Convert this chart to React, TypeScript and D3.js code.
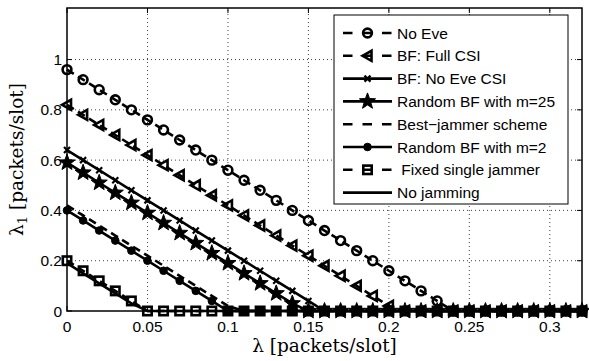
import React from 'react';
import * as d3 from 'd3';

const lambdaValues = [
  0, 0.01, 0.02, 0.03, 0.04, 0.05, 0.06, 0.07, 0.08, 0.09, 0.1, 0.11, 0.12, 0.13, 0.14, 0.15, 0.16,
  0.17, 0.18, 0.19, 0.2, 0.21, 0.22, 0.23, 0.24, 0.25, 0.26, 0.27, 0.28, 0.29, 0.3, 0.31, 0.32,
];

const noEve = [
  0.96, 0.92, 0.88, 0.84, 0.8, 0.76, 0.72, 0.68, 0.64, 0.6, 0.56, 0.52, 0.48, 0.44, 0.4, 0.36, 0.32,
  0.28, 0.24, 0.2, 0.16, 0.12, 0.08, 0.04, 0, 0, 0, 0, 0, 0, 0, 0, 0,
];
const bfFullCsi = [
  0.82, 0.78, 0.74, 0.7, 0.66, 0.62, 0.58, 0.54, 0.5, 0.46, 0.42, 0.38, 0.34, 0.3, 0.26, 0.22, 0.18,
  0.14, 0.1, 0.06, 0.02, 0, 0, 0, 0, 0, 0, 0, 0, 0, 0, 0, 0,
];
const bfNoEveCsi = [
  0.64, 0.6, 0.56, 0.52, 0.48, 0.44, 0.4, 0.36, 0.32, 0.28, 0.24, 0.2, 0.16, 0.12, 0.08, 0.04, 0,
  0, 0, 0, 0, 0, 0, 0, 0, 0, 0, 0, 0, 0, 0, 0, 0,
];
const randomBf25 = [
  0.59, 0.55, 0.51, 0.47, 0.43, 0.39, 0.35, 0.31, 0.27, 0.23, 0.19, 0.15, 0.11, 0.07, 0.03, 0, 0,
  0, 0, 0, 0, 0, 0, 0, 0, 0, 0, 0, 0, 0, 0, 0, 0,
];
const bestJammer = [
  0.42, 0.38, 0.34, 0.3, 0.26, 0.22, 0.18, 0.14, 0.1, 0.06, 0.02, 0, 0, 0, 0, 0, 0,
  0, 0, 0, 0, 0, 0, 0, 0, 0, 0, 0, 0, 0, 0, 0, 0,
];
const randomBf2 = [
  0.4, 0.36, 0.32, 0.28, 0.24, 0.2, 0.16, 0.12, 0.08, 0.04, 0, 0, 0, 0, 0, 0, 0,
  0, 0, 0, 0, 0, 0, 0, 0, 0, 0, 0, 0, 0, 0, 0, 0,
];
const fixedJammer = [
  0.2, 0.16, 0.12, 0.08, 0.04, 0, 0, 0, 0, 0, 0, 0, 0, 0, 0, 0, 0,
  0, 0, 0, 0, 0, 0, 0, 0, 0, 0, 0, 0, 0, 0, 0, 0,
];
const noJamming = [
  0.19, 0.15, 0.11, 0.07, 0.03, 0, 0, 0, 0, 0, 0, 0, 0, 0, 0, 0, 0,
  0, 0, 0, 0, 0, 0, 0, 0, 0, 0, 0, 0, 0, 0, 0, 0,
];

const xTicks = [0, 0.05, 0.1, 0.15, 0.2, 0.25, 0.3];
const yTicks = [0, 0.2, 0.4, 0.6, 0.8, 1];

type Marker = 'circle' | 'triangle' | 'x' | 'star' | 'dot' | 'square' | 'none';

const series: { label: string; values: number[]; dashed: boolean; marker: Marker }[] = [
  { label: 'No Eve', values: noEve, dashed: true, marker: 'circle' },
  { label: 'BF: Full CSI', values: bfFullCsi, dashed: true, marker: 'triangle' },
  { label: 'BF: No Eve CSI', values: bfNoEveCsi, dashed: false, marker: 'x' },
  { label: 'Random BF with m=25', values: randomBf25, dashed: false, marker: 'star' },
  { label: 'Best\u2212jammer scheme', values: bestJammer, dashed: true, marker: 'none' },
  { label: 'Random BF with m=2', values: randomBf2, dashed: false, marker: 'dot' },
  { label: ' Fixed single jammer', values: fixedJammer, dashed: true, marker: 'square' },
  { label: 'No jamming', values: noJamming, dashed: false, marker: 'none' },
];

const width = 589;
const height = 361;
const margin = { top: 8, right: 7, bottom: 50, left: 67 };
const sans = '"Liberation Sans", Arial, Helvetica, sans-serif';
const serif = '"DejaVu Serif", "Liberation Serif", serif';
const lw = 2.6;

function starPath(cx: number, cy: number, ro: number, ri: number) {
  const pts: string[] = [];
  for (let i = 0; i < 10; i++) {
    const r = i % 2 === 0 ? ro : ri;
    const a = -Math.PI / 2 + (i * Math.PI) / 5;
    pts.push(`${cx + r * Math.cos(a)},${cy + r * Math.sin(a)}`);
  }
  return `M${pts.join('L')}Z`;
}

function drawMarker(type: Marker, x: number, y: number, key: string | number) {
  switch (type) {
    case 'circle':
      return <circle key={key} cx={x} cy={y} r={4.4} fill="none" stroke="#000" strokeWidth={lw} />;
    case 'triangle':
      return (
        <polygon
          key={key}
          points={`${x - 5},${y} ${x + 4},${y - 5} ${x + 4},${y + 5}`}
          fill="none"
          stroke="#000"
          strokeWidth={lw}
          strokeLinejoin="miter"
        />
      );
    case 'x':
      return (
        <path
          key={key}
          d={`M${x - 3},${y - 3}L${x + 3},${y + 3}M${x - 3},${y + 3}L${x + 3},${y - 3}`}
          stroke="#000"
          strokeWidth={2.2}
        />
      );
    case 'star':
      return <path key={key} d={starPath(x, y, 8.5, 3.5)} fill="#000" stroke="#000" strokeWidth={1} />;
    case 'dot':
      return <circle key={key} cx={x} cy={y} r={3.8} fill="#000" stroke="#000" strokeWidth={1} />;
    case 'square':
      return (
        <rect key={key} x={x - 4.2} y={y - 4.2} width={8.4} height={8.4} fill="none" stroke="#000" strokeWidth={lw} />
      );
    default:
      return null;
  }
}

export default function App() {
  const x = d3.scaleLinear().domain([0, 0.32]).range([margin.left, width - margin.right]);
  const y = d3.scaleLinear().domain([0, 1.205]).range([height - margin.bottom, margin.top]);
  const [x0, x1] = x.range();
  const [y0, y1] = y.range();

  const line = d3
    .line<number>()
    .x((_, i) => x(lambdaValues[i]))
    .y((d) => y(d));

  const legendX = 334;
  const legendY = 15;
  const legendW = 234;
  const rowH = 22.8;
  const legendH = 189;

  return (
    <svg width={width} height={height} style={{ position: 'absolute', left: 0, top: 0, background: '#fff' }}>
      <rect x={0} y={0} width={width} height={height} fill="#fff" />

      {/* grid */}
      {xTicks.filter((t) => t > 0).map((t) => (
        <line key={`gx${t}`} x1={x(t)} x2={x(t)} y1={y0} y2={y1} stroke="#444" strokeWidth={1} strokeDasharray="1,3" />
      ))}
      {yTicks.filter((t) => t > 0).map((t) => (
        <line key={`gy${t}`} x1={x0} x2={x1} y1={y(t)} y2={y(t)} stroke="#444" strokeWidth={1} strokeDasharray="1,3" />
      ))}

      {/* ticks */}
      {xTicks.map((t) => (
        <g key={`tx${t}`}>
          <line x1={x(t)} x2={x(t)} y1={y0} y2={y0 - 5} stroke="#000" />
          <line x1={x(t)} x2={x(t)} y1={y1} y2={y1 + 5} stroke="#000" />
          <text x={x(t)} y={y0 + 21} textAnchor="middle" fontFamily={sans} fontSize={15.5}>
            {t}
          </text>
        </g>
      ))}
      {yTicks.map((t) => (
        <g key={`ty${t}`}>
          <line x1={x0} x2={x0 + 5} y1={y(t)} y2={y(t)} stroke="#000" />
          <line x1={x1} x2={x1 - 5} y1={y(t)} y2={y(t)} stroke="#000" />
          <text x={x0 - 5} y={y(t) + 5.5} textAnchor="end" fontFamily={sans} fontSize={15.5}>
            {t}
          </text>
        </g>
      ))}

      {/* series */}
      {series.map((s, si) => (
        <g key={`s${si}`}>
          <path
            d={line(s.values) || ''}
            fill="none"
            stroke="#000"
            strokeWidth={lw}
            strokeDasharray={s.dashed ? '8,5' : undefined}
          />
          {s.values.map((v, i) => drawMarker(s.marker, x(lambdaValues[i]), y(v), i))}
        </g>
      ))}

      {/* frame */}
      <rect x={x0} y={y1} width={x1 - x0} height={y0 - y1} fill="none" stroke="#000" strokeWidth={1.5} />

      {/* axis labels */}
      <text x={(x0 + x1) / 2} y={352} textAnchor="middle" fontFamily={serif} fontSize={18.5}>
        λ [packets/slot]
      </text>
      <text
        transform={`translate(23, ${(y0 + y1) / 2}) rotate(-90)`}
        textAnchor="middle"
        fontFamily={serif}
        fontSize={18.5}
      >
        λ<tspan fontSize={13} dy={4}>1</tspan>
        <tspan dy={-4}> [packets/slot]</tspan>
      </text>

      {/* legend */}
      <rect x={legendX} y={legendY} width={legendW} height={legendH} fill="#fff" stroke="#000" strokeWidth={1} />
      {series.map((s, i) => {
        const cy = legendY + 18 + i * rowH;
        const lx0 = legendX + 9;
        const lx1 = legendX + 58;
        return (
          <g key={`l${i}`}>
            <line
              x1={lx0}
              x2={lx1}
              y1={cy}
              y2={cy}
              stroke="#000"
              strokeWidth={lw}
              strokeDasharray={s.dashed ? '9.5,10' : undefined}
            />
            {drawMarker(s.marker, (lx0 + lx1) / 2, cy, 'm')}
            <text x={legendX + 63} y={cy + 5.5} fontFamily={sans} fontSize={15.5} style={{ whiteSpace: 'pre' }}>
              {s.label}
            </text>
          </g>
        );
      })}
    </svg>
  );
}
